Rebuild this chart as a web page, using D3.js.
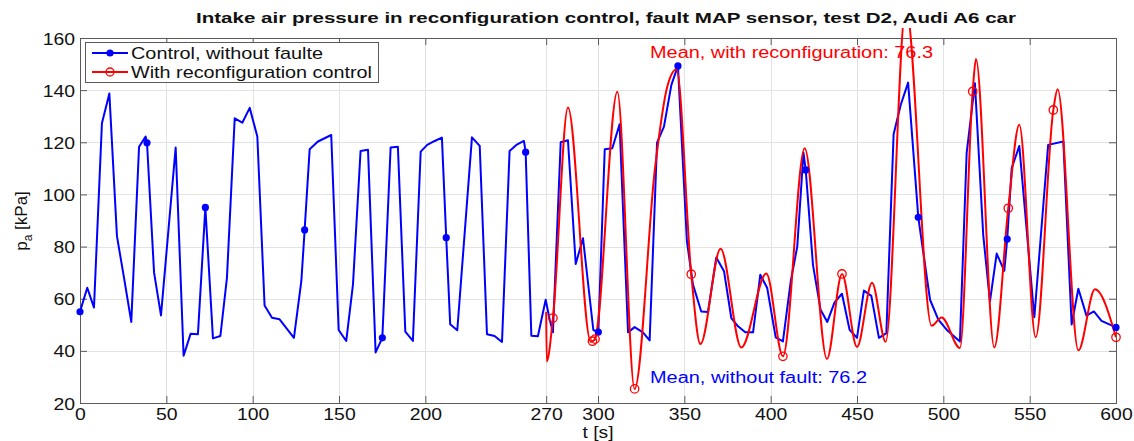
<!DOCTYPE html>
<html><head><meta charset="utf-8">
<script src="https://cdn.jsdelivr.net/npm/d3@7"></script>
<style>
html,body{margin:0;padding:0;background:#fff;}
svg{display:block;font-family:"Liberation Sans",Arial,Helvetica,sans-serif;}
</style></head>
<body>
<svg id="chart" width="1134" height="441"></svg>
<script>
// ---------------- data ----------------
const title = "Intake air pressure in reconfiguration control, fault MAP sensor, test D2, Audi A6 car";
const xTicks = [0, 50, 100, 150, 200, 270, 300, 350, 400, 450, 500, 550, 600];
const yTicks = [20, 40, 60, 80, 100, 120, 140, 160];
const seriesNames = ["Control, without faulte", "With reconfiguration control"];
const meanLabels = ["Mean, without fault: 76.2", "Mean, with reconfiguration: 76.3"];

const blueT = [0, 4.2, 8.1, 12.7, 17, 21.4, 25.5, 29.7, 34.2, 38, 38.8, 42.9, 46.9, 55.4, 60, 64.1, 68.3, 72.6, 77, 81.3,
  85.1, 89.6, 94, 98.3, 102.7, 106.9, 111.2, 115.6, 123.9, 128.2, 130.1, 133, 137.8, 145.5, 149.8, 154.2, 158.1, 162.5, 166.8, 171.2,
  175.1, 179.9, 184.1, 188.4, 192.8, 197.3, 201.1, 205.4, 209.6, 212.1, 214.4, 218.5, 227, 231.5, 235.7, 240.1, 244.4, 248.8, 252.7, 257.1,
  258.1, 261.4, 265.2, 269.7, 272, 273.9, 278.4, 282.6, 287.1, 291.3, 297.3, 300.2, 303.9, 308.3, 312.5, 317.4, 321.2, 326, 329.9, 334.2,
  338.2, 342.5, 346.3, 351.5, 355, 359.8, 363.7, 368.5, 373, 377.2, 381.1, 385.3, 389.8, 394, 398, 402.9, 407.1, 411.6, 415.4, 419,
  420.3, 424.5, 428.9, 432.8, 437, 441.3, 445.7, 450, 454, 458.3, 462.7, 467, 471.2, 475.3, 479.6, 485.5, 492.3, 497.1, 501.9, 509.6,
  513.5, 518.3, 523.1, 527, 530.9, 535.3, 537, 539.6, 544, 552.7, 560.7, 569.5, 574.3, 578.2, 582.9, 587.2, 591.6, 600];
const blueV = [55, 64.2, 56.6, 127.3, 138.7, 84, 68, 51.1, 118.3, 122.2, 119.8, 70, 53.6, 118, 38.1, 46.6, 46.4, 95, 44.8, 45.7,
  68, 129.2, 127.5, 133.2, 122.2, 57.4, 52.7, 52.1, 45, 66.8, 86.4, 117.3, 120.3, 122.8, 48, 43.8, 65.5, 116.7, 117.1, 39.4,
  45, 118, 118.3, 47.4, 43.8, 116.4, 119, 120.5, 121.8, 83.4, 50.2, 47.9, 121.9, 118.6, 46.4, 45.7, 43.4, 116.7, 119, 120.5,
  116.2, 45.8, 45.6, 59.6, 52, 47.1, 120, 120.8, 73.3, 83.2, 48, 47.2, 117.3, 117.7, 126.9, 47.1, 49.1, 47.1, 44, 119.9,
  126, 142, 149.3, 82, 65.4, 55.1, 54.9, 75.8, 70.5, 52.6, 49.4, 47.1, 47.1, 69.2, 64.1, 45.2, 43.6, 66.6, 80, 116,
  109.4, 73, 55.8, 51.1, 58.6, 61.9, 48.1, 45, 63.1, 61.1, 45, 46.8, 123.1, 134.3, 142.9, 91.2, 59.6, 52, 48.1, 43.6,
  115.8, 142.6, 84.5, 59, 77.3, 70.7, 82.9, 110.1, 118.6, 52.9, 119, 120.3, 50.1, 63.8, 53.5, 55.1, 51.5, 49];
const blueMarkT = [0, 38.8, 72.6, 130.1, 175.1, 212.1, 258.1, 300.2, 346.3, 420.3, 485.5, 537, 600];

const redT = [270, 270.3, 273.9, 282.6, 295.8, 296.8, 298.3, 311.2, 321.2, 333, 340, 345.5, 354, 359.3, 371, 383, 397.5, 407.1, 419.7, 432.6,
  441.3, 450, 458.7, 466.6, 478.3, 493.2, 499, 509.6, 517, 518.9, 529.5, 537.6, 544, 553.5, 563.7, 566.2, 578.2, 587.8, 600];
const redV = [55, 36, 52.6, 133.3, 43.5, 43.7, 44.5, 139.4, 25.4, 110, 141, 148, 69.4, 42.6, 79.2, 41.3, 69.7, 37.9, 117.7, 36.9,
  69.5, 41.5, 66.1, 43.5, 172, 49.6, 52.8, 41.1, 139.5, 151.9, 41.3, 94.7, 126.7, 45.2, 132.4, 140.3, 40.2, 63.6, 45.2];
const redMarkT = [273.9, 296.8, 298.3, 321.2, 354, 407.1, 441.3, 517, 537.6, 563.7, 600];

// ---------------- layout ----------------
const M = {left: 80, right: 1116, top: 38, bottom: 403};
const BLUE = "#0000ff", RED = "#ff0000", AX = "#5a5a5a";
const STRETCH = 1.14;
const svg = d3.select("#chart");
const x = d3.scaleLinear().domain([0, 600]).range([M.left, M.right]);
const y = d3.scaleLinear().domain([20, 160]).range([M.bottom, M.top]);

const blue = blueT.map((t, i) => ({t, v: blueV[i]}));
const red = redT.map((t, i) => ({t, v: redV[i]}));

function stretch(sel, k) {
  sel.each(function () {
    const w = this.getComputedTextLength();
    this.setAttribute("textLength", (w * k).toFixed(1));
    this.setAttribute("lengthAdjust", "spacingAndGlyphs");
  });
}

// grid
const grid = svg.append("g").attr("stroke", "#e3e3e3").attr("stroke-width", 1);
grid.selectAll("line.gx").data(xTicks.filter(d => d > 0 && d < 600)).join("line")
  .attr("x1", d => Math.round(x(d)) + 0.5).attr("x2", d => Math.round(x(d)) + 0.5)
  .attr("y1", M.top).attr("y2", M.bottom);
grid.selectAll("line.gy").data(yTicks.filter(d => d > 20 && d < 160)).join("line")
  .attr("y1", d => Math.round(y(d)) + 0.5).attr("y2", d => Math.round(y(d)) + 0.5)
  .attr("x1", M.left).attr("x2", M.right);

// axes
const fs = 17;
const xAxis = svg.append("g").attr("transform", `translate(0,${M.bottom})`)
  .call(d3.axisBottom(x).tickValues(xTicks).tickSize(-7).tickPadding(5).tickFormat(d3.format("d")));
const xAxisTop = svg.append("g").attr("transform", `translate(0,${M.top})`)
  .call(d3.axisTop(x).tickValues(xTicks).tickSize(-7).tickFormat(""));
const yAxis = svg.append("g").attr("transform", `translate(${M.left},0)`)
  .call(d3.axisLeft(y).tickValues(yTicks).tickSize(-7).tickPadding(5).tickFormat(d3.format("d")));
const yAxisR = svg.append("g").attr("transform", `translate(${M.right},0)`)
  .call(d3.axisRight(y).tickValues(yTicks).tickSize(-7).tickFormat(""));
[xAxis, xAxisTop, yAxis, yAxisR].forEach(g => {
  g.select(".domain").attr("stroke", AX).attr("stroke-width", 1);
  g.selectAll(".tick line").attr("stroke", AX);
  g.selectAll("text").attr("font-size", fs).attr("fill", "#111").attr("font-family", "Liberation Sans, Arial, sans-serif");
});
xAxis.selectAll("text").attr("dy", "0.71em");
yAxis.selectAll("text").attr("dy", "0.36em");
stretch(xAxis.selectAll("text"), STRETCH);
stretch(yAxis.selectAll("text"), STRETCH);

// clip
svg.append("clipPath").attr("id", "clipR").append("rect")
  .attr("x", M.left).attr("y", 28).attr("width", M.right - M.left).attr("height", M.bottom - 28);

const lineB = d3.line().x(d => x(d.t)).y(d => y(d.v));
const lineR = d3.line().x(d => x(d.t)).y(d => y(d.v)).curve(d3.curveMonotoneX);

svg.append("path").datum(blue).attr("d", lineB).attr("fill", "none")
  .attr("stroke", BLUE).attr("stroke-width", 2).attr("stroke-linejoin", "round");
svg.append("path").datum(red).attr("d", lineR).attr("fill", "none").attr("clip-path", "url(#clipR)")
  .attr("stroke", RED).attr("stroke-width", 2).attr("stroke-linejoin", "round");

svg.append("g").selectAll("circle").data(blue.filter(d => blueMarkT.includes(d.t))).join("circle")
  .attr("cx", d => x(d.t)).attr("cy", d => y(d.v)).attr("r", 3.6).attr("fill", BLUE);
svg.append("g").selectAll("circle").data(red.filter(d => redMarkT.includes(d.t))).join("circle")
  .attr("cx", d => x(d.t)).attr("cy", d => y(d.v)).attr("r", 4.2).attr("fill", "none")
  .attr("stroke", RED).attr("stroke-width", 1.3);

// mean annotations
svg.append("text").attr("x", 650).attr("y", 58).attr("fill", RED).attr("font-size", 16)
  .attr("textLength", 283).attr("lengthAdjust", "spacingAndGlyphs").text(meanLabels[1]);
svg.append("text").attr("x", 650).attr("y", 383).attr("fill", BLUE).attr("font-size", 16)
  .attr("textLength", 217).attr("lengthAdjust", "spacingAndGlyphs").text(meanLabels[0]);

// legend
const lg = svg.append("g");
lg.append("rect").attr("x", 85.5).attr("y", 42.5).attr("width", 293).attr("height", 40)
  .attr("fill", "#fff").attr("stroke", AX).attr("stroke-width", 1);
const legW = [192, 241];
[[BLUE, true], [RED, false]].forEach(([c, filled], i) => {
  const yy = 53 + i * 19;
  lg.append("line").attr("x1", 92).attr("x2", 128).attr("y1", yy).attr("y2", yy).attr("stroke", c).attr("stroke-width", 2);
  lg.append("circle").attr("cx", 110).attr("cy", yy).attr("r", filled ? 3.6 : 4)
    .attr("fill", filled ? c : "none").attr("stroke", filled ? "none" : c).attr("stroke-width", 1.3);
  lg.append("text").attr("x", 131).attr("y", yy + 6).attr("font-size", 17).attr("fill", "#111")
    .attr("textLength", legW[i]).attr("lengthAdjust", "spacingAndGlyphs").text(seriesNames[i]);
});

// titles
svg.append("text").attr("x", 606).attr("y", 23).attr("text-anchor", "middle").attr("font-weight", "bold")
  .attr("font-size", 15.5).attr("fill", "#111").attr("textLength", 820).attr("lengthAdjust", "spacingAndGlyphs").text(title);
svg.append("text").attr("x", 598).attr("y", 438).attr("text-anchor", "middle").attr("font-size", 17).attr("fill", "#111")
  .attr("textLength", 31).attr("lengthAdjust", "spacingAndGlyphs").text("t [s]");
const yl = svg.append("text").attr("transform", "translate(27,221) rotate(-90)").attr("text-anchor", "middle")
  .attr("font-size", 17).attr("fill", "#111");
yl.append("tspan").text("p");
yl.append("tspan").attr("font-size", 12).attr("dy", 5).text("a");
yl.append("tspan").attr("dy", -5).text(" [kPa]");
</script>
</body></html>
